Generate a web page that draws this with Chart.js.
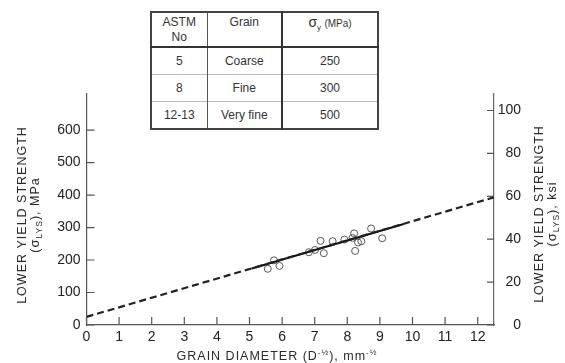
<!DOCTYPE html>
<html>
<head>
<meta charset="utf-8">
<script src="https://cdn.jsdelivr.net/npm/chart.js@4"></script>
<style>
body{margin:0;background:#fff;}
#wrap{position:relative;width:565px;height:363px;}
#tbl{position:absolute;left:150px;top:11px;border-collapse:collapse;font-family:'Liberation Sans',Arial,sans-serif;font-size:12px;color:#333;background:#fff;border:2px solid #444;}
#tbl td{text-align:center;padding:0;height:26px;border-top:1px solid #bbb;}
#tbl td.c2{border-left:1px solid #555;border-right:2px solid #333;}
#tbl tr.h td{vertical-align:top;height:31px;padding-top:2px;border-bottom:2px solid #333;line-height:15px;}
#tbl .s{font-size:14px;}
#tbl sub{font-size:8px;}
#tbl .u{font-size:10px;}
</style>
</head>
<body>
<div id="wrap">
<canvas id="chart" width="565" height="363"></canvas>
<table id="tbl">
<colgroup><col style="width:56px"><col style="width:75px"><col style="width:96px"></colgroup>
<tr class="h"><td>ASTM<br>No</td><td class="c2">Grain</td><td><span class="s">σ</span><sub>y</sub> <span class="u">(MPa)</span></td></tr>
<tr><td>5</td><td class="c2">Coarse</td><td>250</td></tr>
<tr><td>8</td><td class="c2">Fine</td><td>300</td></tr>
<tr><td>12-13</td><td class="c2">Very fine</td><td>500</td></tr>
</table>
</div>
<script>
// measured points: grain diameter D^-1/2 (mm^-1/2) vs lower yield strength (MPa)
let grainX=[5.56,5.75,5.92,6.82,7.01,7.18,7.28,7.55,7.91,8.16,8.21,8.24,8.33,8.43,8.73,9.07];
let strengthY=[173,199,182,224,231,259,221,258,263,268,282,228,254,258,297,267];
// fitted line (solid) and its extrapolation (dashed)
let fitX=[5.07,9.73], fitY=[174,311];
let extX=[0,12.5], extY=[25,393];
// tick labels
let xTicks=[0,1,2,3,4,5,6,7,8,9,10,11,12];
let mpaTicks=[0,100,200,300,400,500,600];
let ksiTicks=[0,20,40,60,80,100];

let font='"Liberation Sans", Arial, sans-serif';
let pts=(xs,ys)=>xs.map((x,i)=>({x:x,y:ys[i]}));

// draw a line of text made of segments [text,size,dy], centred on x
function drawRich(ctx,segs,x,y){
  let w=0;
  segs.forEach(s=>{ctx.font=s[1]+'px '+font; w+=ctx.measureText(s[0]).width;});
  let cx=x-w/2;
  segs.forEach(s=>{ctx.font=s[1]+'px '+font; ctx.fillText(s[0],cx,y+s[2]); cx+=ctx.measureText(s[0]).width;});
}

// inward tick marks
let tickMarks={id:'tickMarks',afterDraw(chart){
  let {ctx,chartArea:a,scales}=chart;
  ctx.save(); ctx.strokeStyle='#555'; ctx.lineWidth=1.2; ctx.beginPath();
  xTicks.forEach(v=>{let p=scales.x.getPixelForValue(v); ctx.moveTo(p,a.bottom); ctx.lineTo(p,a.bottom-8);});
  mpaTicks.forEach(v=>{let p=scales.y.getPixelForValue(v); ctx.moveTo(a.left,p); ctx.lineTo(a.left+8,p);});
  ksiTicks.forEach(v=>{let p=scales.y2.getPixelForValue(v); ctx.moveTo(a.right,p); ctx.lineTo(a.right-7,p);});
  ctx.stroke(); ctx.restore();
}};

// axis titles
let titles={id:'titles',afterDraw(chart){
  let ctx=chart.ctx;
  ctx.save(); ctx.fillStyle='#2a2a2a'; ctx.textBaseline='alphabetic'; ctx.letterSpacing='1px';
  drawRich(ctx,[['GRAIN DIAMETER (D',12.5,0],['-½',8,-5],['), mm',12.5,0],['-½',8,-5]],277,359.5);
  [[26,215,'MPa'],[543,214,'ksi']].forEach(t=>{
    ctx.save(); ctx.translate(t[0],t[1]); ctx.rotate(-Math.PI/2);
    drawRich(ctx,[['LOWER YIELD STRENGTH',12.5,0]],0,0);
    drawRich(ctx,[['(',12.5,0],['σ',13,0],['LYS',8.5,3],['), '+t[2],12.5,0]],0,13);
    ctx.restore();
  });
  ctx.restore();
}};

let tickFont={family:font,size:14};
new Chart(document.getElementById('chart').getContext('2d'),{
  type:'scatter',
  data:{datasets:[
    {data:pts(extX,extY),showLine:true,borderColor:'#222',borderWidth:2.2,borderDash:[7,4],pointRadius:0},
    {data:pts(fitX,fitY),showLine:true,borderColor:'#111',borderWidth:2,pointRadius:0},
    {data:pts(grainX,strengthY),pointRadius:3.5,pointBorderColor:'#555',pointBackgroundColor:'rgba(0,0,0,0)',pointBorderWidth:1}
  ]},
  options:{
    responsive:false,animation:false,
    layout:{padding:{top:94,right:44,left:0,bottom:0}},
    plugins:{legend:{display:false},tooltip:{enabled:false}},
    scales:{
      x:{type:'linear',min:0,max:12.5,
        afterBuildTicks:s=>{s.ticks=xTicks.map(v=>({value:v}));},
        afterFit:s=>{s.height=38;},
        grid:{display:false,drawTicks:false},border:{color:'#555',width:1.2},
        ticks:{color:'#222',font:tickFont,padding:4,maxRotation:0,autoSkip:false}},
      y:{type:'linear',position:'left',min:0,max:711,
        afterBuildTicks:s=>{s.ticks=mpaTicks.map(v=>({value:v}));},
        afterFit:s=>{s.width=86.5;},
        grid:{display:false,drawTicks:false},border:{color:'#555',width:1.2},
        ticks:{color:'#222',font:tickFont,padding:6}},
      y2:{type:'linear',position:'right',min:0,max:107.7,
        afterBuildTicks:s=>{s.ticks=ksiTicks.map(v=>({value:v}));},
        afterFit:s=>{s.width=27;},
        grid:{display:false,drawTicks:false},border:{color:'#666',width:1.2},
        ticks:{color:'#222',font:tickFont,padding:6,crossAlign:'far'}}
    }
  },
  plugins:[tickMarks,titles]
});
</script>
</body>
</html>
